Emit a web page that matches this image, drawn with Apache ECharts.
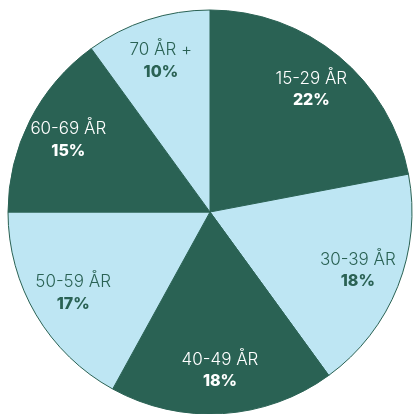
<!DOCTYPE html>
<html>
<head>
<meta charset="utf-8">
<script src="https://cdn.jsdelivr.net/npm/echarts@6/dist/echarts.min.js"></script>
<style>
  html, body { margin: 0; padding: 0; background: #ffffff; }
  #chart { width: 414px; height: 414px; }
</style>
</head>
<body>
<div id="chart"></div>
<script>
  const categories = ["15-29 ÅR", "30-39 ÅR", "40-49 ÅR", "50-59 ÅR", "60-69 ÅR", "70 ÅR +"]
  const values = [22, 18, 18, 17, 15, 10]

  const dark = "#2a6254"
  const light = "#bee6f3"
  const colors = [dark, light, dark, light, dark, light]
  const textColors = ["#ffffff", dark, "#ffffff", dark, "#ffffff", dark]

  const pieData = categories.map((c, i) => ({
    name: c,
    value: values[i],
    itemStyle: { color: colors[i] },
  }))
  const labelData = categories.map((c, i) => ({
    name: c,
    value: values[i],
    label: { color: textColors[i] },
  }))

  const myChart = echarts.init(document.getElementById("chart"))
  const option = {
    backgroundColor: "#ffffff",
    animation: false,
    series: [
      {
        type: "pie",
        center: [210, 212],
        radius: 202,
        startAngle: 90,
        clockwise: true,
        silent: true,
        label: { show: false },
        labelLine: { show: false },
        itemStyle: { borderColor: dark, borderWidth: 1 },
        data: pieData,
      },
      {
        // 透明的环, 只用来放标签
        type: "pie",
        center: [210, 212],
        radius: [110, 202],
        startAngle: 90,
        clockwise: true,
        silent: true,
        itemStyle: { color: "transparent" },
        labelLine: { show: false },
        label: {
          show: true,
          position: "inside",
          fontFamily: "Inter",
          formatter: function (p) {
            return "{n|" + p.name + "}\n{v|" + p.value + "%}"
          },
          rich: {
            n: { fontSize: 17, fontWeight: 300, lineHeight: 22, fontFamily: "Inter" },
            v: { fontSize: 16, fontWeight: 800, lineHeight: 22, fontFamily: "Inter" },
          },
        },
        data: labelData,
      },
    ],
  }
  myChart.setOption(option)
</script>
</body>
</html>
